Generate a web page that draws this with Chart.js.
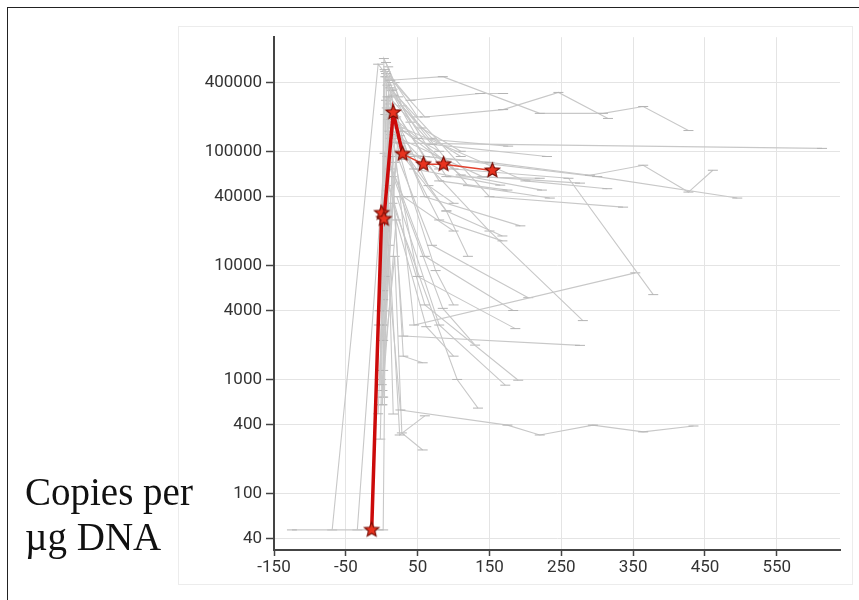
<!DOCTYPE html>
<html>
<head>
<meta charset="utf-8">
<script src="https://cdn.jsdelivr.net/npm/chart.js@4.4.1/dist/chart.umd.min.js"></script>
<style>
  body { margin: 0; background: #fff; width: 859px; height: 600px; overflow: hidden; position: relative; }
  #frame { position: absolute; left: 7px; top: 7px; width: 900px; height: 700px; border-top: 1.5px solid #222; border-left: 1.5px solid #222; }
  #panel { position: absolute; left: 178px; top: 26px; width: 675px; height: 559px; border: 1px solid #ececec; box-sizing: border-box; }
  #box { position: absolute; left: 178px; top: 23px; width: 675px; height: 562px; }
  #title { position: absolute; left: 25px; top: 469px; font-family: "Liberation Serif", "DejaVu Serif", serif; font-size: 39px; line-height: 45px; color: #111; }
</style>
</head>
<body>
<div id="frame"></div>
<div id="panel"></div>
<div id="box"><canvas id="chart"></canvas></div>
<div id="title">Copies per<br>µg DNA</div>
<script>
// axis ticks
const xTicks = [-150, -50, 50, 150, 250, 350, 450, 550];
const yTicks = [40, 100, 400, 1000, 4000, 10000, 40000, 100000, 400000];

// highlighted subject (red stars)
const redDays   = [-14, 0, 3, 16, 29, 58, 86, 154];
const redCopies = [48, 28800, 25500, 219000, 94800, 77000, 77000, 67900];

// other subjects (grey), one row per subject
const greyDays = [
  [-125, 2, 8, 30, 80],
  [-69, -5, 12, 85, 220, 308, 364, 427],
  [-2, 4, 40, 137, 169],
  [6, 60, 169, 246, 315],
  [-3, 5, 25, 613],
  [8, 50, 176],
  [2, 10, 70, 230],
  [-4, 12, 60, 150, 290, 364, 427, 461],
  [15, 100, 260, 378],
  [-5, 10, 30, 300, 495],
  [14, 90, 220],
  [-2, 6, 45, 165],
  [18, 80, 175],
  [0, 9, 110, 223],
  [16, 120, 234],
  [2, 20, 200, 314],
  [11, 150, 336],
  [4, 13, 140, 276],
  [7, 60, 193],
  [2, 22, 90, 168],
  [5, 80, 168],
  [1, 10, 25, 150, 280],
  [15, 45, 353],
  [3, 12, 70, 204],
  [8, 60, 183],
  [1, 19, 50, 186],
  [14, 30, 276],
  [2, 10, 60, 190],
  [21, 80, 172],
  [1, 15, 105, 134],
  [-2, 4, 26, 175, 220, 294, 364, 434],
  [10, 25, 60],
  [0, 18, 28, 57],
  [-3, 7, 16],
  [12, 85, 130],
  [0, 20, 62, 100],
  [14, 30, 57],
  [6, 23, 55, 110],
  [-1, 3, 18, 50],
  [9, 28, 70, 110],
  [5, 15, 40],
  [2, 7, 20, 35, 80],
  [-34, 4, 30, 100],
  [13, 26, 45, 65, 100],
  [1, 17, 33, 90, 120],
  [19, 42, 75, 100]
];
const greyCopies = [
  [48, 48, 300000, 150000, 100000],
  [48, 580000, 420000, 451000, 215000, 215000, 247000, 152000],
  [900, 520000, 280000, 321000, 321000],
  [480000, 200000, 232000, 328000, 194000],
  [4000, 450000, 118000, 106000],
  [380000, 130000, 111000],
  [6000, 300000, 115000, 90000],
  [3000, 260000, 90000, 80000, 61700, 75500, 43900, 68200],
  [200000, 70000, 58000, 5540],
  [500, 150000, 95000, 60000, 38900],
  [340000, 60000, 58000],
  [1200, 280000, 70000, 50500],
  [230000, 55000, 45700],
  [3000, 190000, 62000, 45700],
  [310000, 50000, 38900],
  [5000, 170000, 55000, 47000],
  [360000, 40000, 32400],
  [8000, 140000, 60000, 52600],
  [240000, 40000, 22200],
  [2200, 120000, 30000, 18100],
  [210000, 25000, 16400],
  [600, 400000, 137000, 20000, 3280],
  [160000, 3000, 8600],
  [4000, 130000, 15000, 5210],
  [90000, 12000, 4020],
  [3000, 80000, 8000, 2790],
  [60000, 2400, 1990],
  [700, 50000, 4500, 985],
  [40000, 3000, 891],
  [800, 35000, 1000, 561],
  [300, 20000, 540, 398, 326, 398, 347, 391],
  [15000, 326, 480],
  [900, 12000, 340, 241],
  [1000, 45000, 498],
  [70000, 4200, 2000],
  [600, 25000, 2900, 1600],
  [90000, 1600, 1400],
  [600000, 300000, 160000, 100000],
  [1000, 650000, 400000, 200000],
  [550000, 250000, 130000, 90000],
  [500000, 350000, 180000],
  [1200, 450000, 200000, 100000, 70000],
  [48, 96000, 40000, 20000],
  [220000, 160000, 90000, 50000, 35000],
  [700, 180000, 85000, 30000, 12000],
  [130000, 40000, 9000, 4500]
];

function toPoints(xs, ys) {
  return xs.map((x, i) => ({ x: x, y: ys[i] }));
}

// filled star marker
function makeStar(r, fill, stroke) {
  const c = document.createElement('canvas');
  const s = Math.ceil(r * 2 + 4);
  c.width = s; c.height = s;
  const g = c.getContext('2d');
  g.beginPath();
  for (let i = 0; i < 10; i++) {
    const a = -Math.PI / 2 + i * Math.PI / 5;
    const rr = i % 2 ? r * 0.45 : r;
    g.lineTo(s / 2 + rr * Math.cos(a), s / 2 + rr * Math.sin(a));
  }
  g.closePath();
  g.fillStyle = fill;
  g.fill();
  g.lineWidth = 1.2;
  g.strokeStyle = stroke;
  g.stroke();
  return c;
}
const star = makeStar(7.5, '#e8321e', '#7a1008');

const datasets = [{
  data: toPoints(redDays, redCopies),
  order: 0,
  borderColor: '#cc0a0a',
  borderWidth: 3.5,
  pointStyle: star,
  pointRadius: 8,
  segment: {
    borderWidth: ctx => ctx.p1DataIndex <= 4 ? 3.5 : 1.5,
    borderColor: ctx => ctx.p1DataIndex <= 4 ? '#cc0a0a' : '#e2412e'
  }
}];
greyDays.forEach((days, i) => {
  datasets.push({
    data: toPoints(days, greyCopies[i]),
    order: 1,
    borderColor: '#c8c8c8',
    borderWidth: 1.1,
    pointStyle: 'line',
    pointRadius: 5,
    pointBorderColor: '#b4b4b4',
    pointBorderWidth: 1
  });
});

const tickFont = { family: 'Roboto', size: 17 };

new Chart(document.getElementById('chart'), {
  type: 'line',
  data: { datasets: datasets },
  options: {
    responsive: true,
    maintainAspectRatio: false,
    animation: false,
    layout: { padding: { left: 0, top: 9, right: 13, bottom: 0 } },
    plugins: { legend: { display: false }, tooltip: { enabled: false } },
    scales: {
      x: {
        type: 'linear',
        min: -150,
        max: 638,
        afterBuildTicks: s => { s.ticks = xTicks.map(v => ({ value: v })); },
        afterFit: s => { s.height = 35; },
        grid: { color: '#e4e4e4', tickColor: '#444', tickLength: 6, tickWidth: 1.5 },
        border: { color: '#444', width: 2 },
        ticks: { font: tickFont, color: '#333', padding: 2, maxRotation: 0, autoSkip: false }
      },
      y: {
        type: 'logarithmic',
        min: 32,
        max: 1000000,
        afterBuildTicks: s => { s.ticks = yTicks.map(v => ({ value: v })); },
        afterFit: s => { s.width = 96; },
        grid: { color: '#e4e4e4', tickColor: '#444', tickLength: 8, tickWidth: 1.5 },
        border: { color: '#444', width: 2 },
        ticks: {
          font: tickFont, color: '#333', padding: 4, autoSkip: false,
          callback: v => String(v)
        }
      }
    }
  }
});
</script>
</body>
</html>
